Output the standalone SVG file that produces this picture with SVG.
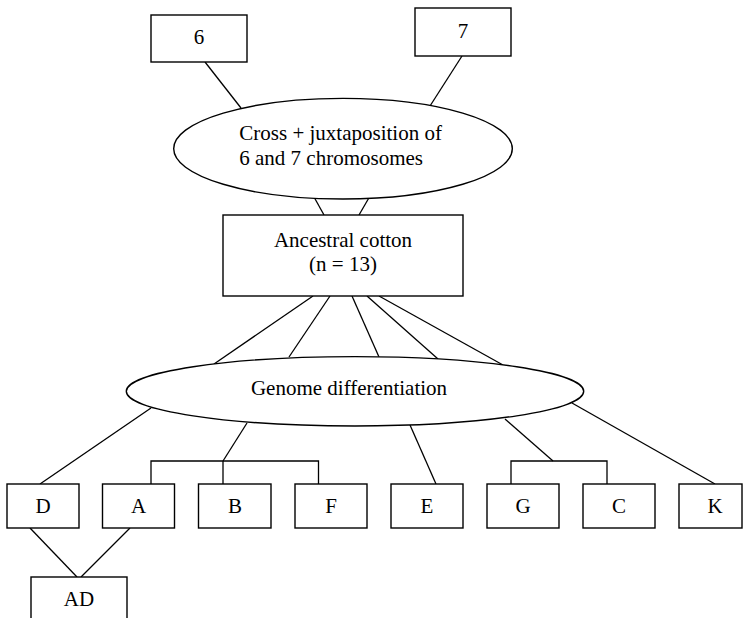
<svg xmlns="http://www.w3.org/2000/svg" width="743" height="618" viewBox="0 0 743 618">
<style>
.n{fill:#fff;stroke:#000;stroke-width:1.4}
.c line,.c polyline{stroke:#000;stroke-width:1.3;fill:none}
text{font-family:"Liberation Serif","Times New Roman",serif;font-size:21px;fill:#000}
.m{text-anchor:middle}
</style>
<rect width="743" height="618" fill="#fff"/>
<g class="c" id="connectors">
<line x1="205" y1="62" x2="241" y2="108"/>
<line x1="462" y1="56" x2="430" y2="106"/>
<line x1="314" y1="197" x2="324" y2="215"/>
<line x1="370" y1="196" x2="359" y2="215"/>
<line x1="313" y1="296" x2="214" y2="364"/>
<line x1="330" y1="296" x2="289" y2="357"/>
<line x1="352" y1="296" x2="379" y2="357"/>
<line x1="367" y1="296" x2="438" y2="359"/>
<line x1="379" y1="296" x2="503" y2="365"/>
<line x1="151" y1="408" x2="40" y2="484"/>
<line x1="247" y1="423" x2="223" y2="461"/>
<polyline points="151,484 151,461 318.5,461 318.5,484"/>
<line x1="223" y1="461" x2="223" y2="484"/>
<line x1="410" y1="425" x2="436" y2="484"/>
<line x1="505" y1="419" x2="553" y2="461"/>
<polyline points="511,484 511,461 607,461 607,484"/>
<line x1="572" y1="403" x2="715" y2="484"/>
<line x1="30" y1="528" x2="77" y2="577"/>
<line x1="130" y1="528" x2="81" y2="577"/>
</g>
<g id="n6"><rect class="n" x="151" y="15" width="96" height="47"/><text class="m" x="199" y="44">6</text></g>
<g id="n7"><rect class="n" x="415" y="8" width="96" height="48"/><text class="m" x="463" y="38">7</text></g>
<g id="cross"><ellipse class="n" cx="343" cy="148.7" rx="169.3" ry="50.3"/><text x="239.3" y="140">Cross + juxtaposition of</text><text x="239.3" y="165">6 and 7 chromosomes</text></g>
<g id="ancestral"><rect class="n" x="223" y="215" width="240" height="81"/><text class="m" x="343" y="246.5">Ancestral cotton</text><text class="m" x="343" y="271">(n = 13)</text></g>
<g id="genome"><ellipse class="n" cx="355" cy="391.3" rx="228.7" ry="34.7"/><text class="m" x="349" y="395">Genome differentiation</text></g>
<g id="D"><rect class="n" x="7" y="484" width="72" height="44"/><text class="m" x="43" y="513">D</text></g>
<g id="A"><rect class="n" x="102.5" y="484" width="72" height="44"/><text class="m" x="138.5" y="513">A</text></g>
<g id="B"><rect class="n" x="198.5" y="484" width="72.5" height="44"/><text class="m" x="235" y="513">B</text></g>
<g id="F"><rect class="n" x="295" y="484" width="72" height="44"/><text class="m" x="331" y="513">F</text></g>
<g id="E"><rect class="n" x="391" y="484" width="72" height="44"/><text class="m" x="427" y="513">E</text></g>
<g id="G"><rect class="n" x="487" y="484" width="72" height="44"/><text class="m" x="523" y="513">G</text></g>
<g id="C"><rect class="n" x="583" y="484" width="72" height="44"/><text class="m" x="619" y="513">C</text></g>
<g id="K"><rect class="n" x="679" y="484" width="63" height="44"/><text class="m" x="715" y="513">K</text></g>
<g id="AD"><rect class="n" x="31" y="577" width="96" height="50"/><text class="m" x="79" y="606">AD</text></g>
</svg>
